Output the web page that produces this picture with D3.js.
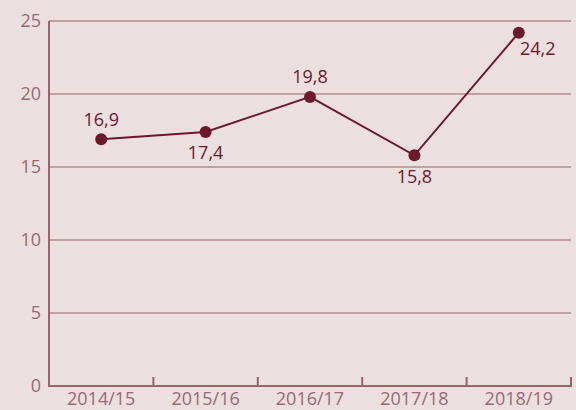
<!DOCTYPE html>
<html><head><meta charset="utf-8">
<script src="https://cdn.jsdelivr.net/npm/d3@7"></script>
<style>html,body{margin:0;padding:0;background:#ecdfe0;}svg{display:block;}</style>
</head><body>
<svg id="c" width="576" height="410"></svg>
<script>
const categories = ["2014/15","2015/16","2016/17","2017/18","2018/19"];
const values = [16.9, 17.4, 19.8, 15.8, 24.2];
const valueLabels = ["16,9","17,4","19,8","15,8","24,2"];
const labelPos = ["above","below","above","below","belowright"];
const yTicks = [0,5,10,15,20,25];

const svg = d3.select("#c");
const W=576,H=410, m={l:49,r:5,t:21,b:24};
svg.append("rect").attr("width",W).attr("height",H).attr("fill","#ecdfe0");
const x = d3.scaleBand().domain(categories).range([m.l, W-m.r]);
const y = d3.scaleLinear().domain([0,25]).range([H-m.b, m.t]);
const font = "'Liberation Sans Narrow', 'Open Sans', sans-serif";

// gridlines
svg.append("g").selectAll("line").data(yTicks.filter(d=>d>0)).join("line")
  .attr("x1",m.l).attr("x2",W-m.r).attr("y1",d=>y(d)).attr("y2",d=>y(d))
  .attr("stroke","#b58a8f").attr("stroke-width",1.5);

// y labels
svg.append("g").selectAll("text").data(yTicks).join("text")
  .attr("x",m.l-8).attr("y",d=>y(d)).attr("dy","0.35em").attr("text-anchor","end")
  .attr("font-family",font).attr("font-size",18).attr("fill","#9a6a72").text(d=>d);

// axes lines
svg.append("line").attr("x1",m.l).attr("x2",m.l).attr("y1",m.t).attr("y2",y(0)+1)
  .attr("stroke","#98646b").attr("stroke-width",2);
svg.append("line").attr("x1",m.l).attr("x2",W-m.r+1).attr("y1",y(0)).attr("y2",y(0))
  .attr("stroke","#98646b").attr("stroke-width",2);
// x ticks at band boundaries
const bounds = categories.map(c=>x(c)+x.bandwidth());
svg.append("g").selectAll("line").data(bounds).join("line")
  .attr("x1",d=>d).attr("x2",d=>d).attr("y1",y(0)).attr("y2",y(0)-9)
  .attr("stroke","#98646b").attr("stroke-width",2);
// x labels
svg.append("g").selectAll("text").data(categories).join("text")
  .attr("x",d=>x(d)+x.bandwidth()/2).attr("y",y(0)+19).attr("text-anchor","middle")
  .attr("font-family",font).attr("font-size",18).attr("fill","#9a6a72").text(d=>d);

// line
const cx = i=>x(categories[i])+x.bandwidth()/2;
svg.append("path").datum(values)
  .attr("d", d3.line().x((d,i)=>cx(i)).y(d=>y(d)))
  .attr("fill","none").attr("stroke","#6b1a2e").attr("stroke-width",2);
svg.append("g").selectAll("circle").data(values).join("circle")
  .attr("cx",(d,i)=>cx(i)).attr("cy",d=>y(d)).attr("r",6).attr("fill","#6b1a2e");

// value labels
svg.append("g").selectAll("text").data(values).join("text")
  .attr("x",(d,i)=>labelPos[i]==="belowright"? cx(i)+19 : cx(i))
  .attr("y",(d,i)=>{const p=labelPos[i]; return p==="above"? y(d)-20 : (p==="below"? y(d)+21 : y(d)+16);})
  .attr("dy","0.35em").attr("text-anchor","middle")
  .attr("font-family",font).attr("font-size",18).attr("fill","#6b1a2e")
  .text((d,i)=>valueLabels[i]);
</script>
</body></html>
